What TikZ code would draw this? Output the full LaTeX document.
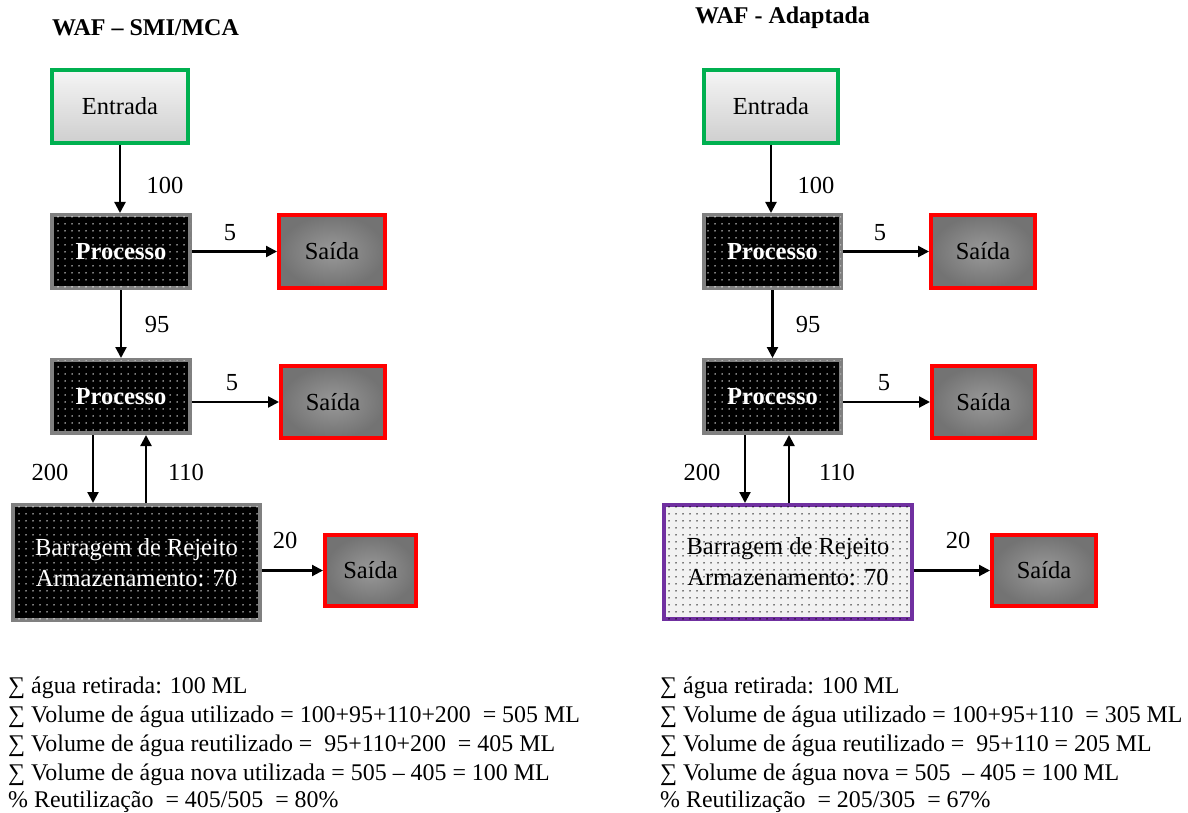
\documentclass[tikz,border=0pt]{standalone}
\usepackage{fontspec}
\setmainfont{Liberation Serif}
\usetikzlibrary{arrows.meta,patterns.meta,calc}
\definecolor{entgreen}{HTML}{00B050}
\definecolor{outred}{HTML}{FF0000}
\definecolor{procgray}{HTML}{808080}
\definecolor{dampurple}{HTML}{7030A0}
\tikzset{
  box/.style={inner sep=0pt, line width=4pt, align=center, font=\fontsize{24.5}{26}\selectfont},
  entbox/.style={box, draw=entgreen, top color=white!96!black, bottom color=white!81!black},
  outbox/.style={box, draw=outred, inner color=white!60!black, outer color=white!45!black},
  procbox/.style={box, draw=procgray, fill=black, text=white, font=\fontsize{24.5}{26}\selectfont\bfseries,
    postaction={pattern={Dots[distance=6.5pt, radius=0.8pt]}, pattern color=white}},
  damdark/.style={box, draw=procgray, fill=black, text=white, font=\fontsize{24.5}{31}\selectfont,
    postaction={pattern={Dots[distance=6.5pt, radius=0.8pt]}, pattern color=white}},
  damlight/.style={box, draw=dampurple, fill=white!95!black, text=black, font=\fontsize{24.5}{31}\selectfont,
    postaction={pattern={Dots[distance=6.5pt, radius=0.8pt]}, pattern color=black}},
  flow/.style={line width=2.2pt, -{Triangle[length=11pt,width=11pt]}},
  lbl/.style={inner sep=0pt, font=\fontsize{24.5}{26}\selectfont},
  ttl/.style={inner sep=0pt, font=\fontsize{24}{26}\selectfont\bfseries},
  sumtxt/.style={inner sep=0pt, anchor=base west, font=\fontsize{23.9}{26}\selectfont}
}
\begin{document}
\begin{tikzpicture}[x=1pt,y=-1pt]
\useasboundingbox (0,0) rectangle (1188,813);
% ---------- left ----------
\node[ttl, anchor=west] (t1) at (52,28) {WAF -- SMI/MCA};
\node[entbox, minimum width=136pt, minimum height=73pt] (e1) at (120,106.5) {Entrada};
\node[procbox, minimum width=138pt, minimum height=73pt] (p1) at (121,251.5) {Processo};
\node[outbox, minimum width=106pt, minimum height=73pt] (s1) at (332,251.5) {Saída};
\node[procbox, minimum width=138pt, minimum height=73pt] (p2) at (121,396.5) {Processo};
\node[outbox, minimum width=104pt, minimum height=72pt] (s2) at (333,402) {Saída};
\node[damdark, minimum width=247pt, minimum height=115pt] (b1) at (136.5,562.5) {Barragem de Rejeito\\Armazenamento: 70};
\node[outbox, minimum width=91pt, minimum height=71pt] (s3) at (370.5,570.5) {Saída};
\draw[flow] (e1.south) -- (e1.south |- p1.north);
\draw[flow] (p1.east) -- (s1.west);
\draw[flow] (p1.south) -- (p2.north);
\draw[flow] (s2.west -| p2.east) -- (s2.west);
\draw[flow] ([xshift=-28pt]p2.south) -- ([xshift=-28pt]p2.south |- b1.north);
\draw[flow] ([xshift=25pt]p2.south |- b1.north) -- ([xshift=25pt]p2.south);
\draw[flow] (s3.west -| b1.east) -- (s3.west);
\node[lbl] (l1) at (165,185) {100};
\node[lbl] (l2) at (230,233) {5};
\node[lbl] (l3) at (157,325) {95};
\node[lbl] (l4) at (232,383) {5};
\node[lbl] (l5) at (50,472) {200};
\node[lbl] (l6) at (186,472) {110};
\node[lbl] (l7) at (285,540) {20};
\node[sumtxt] (a1) at (8,693) {∑ água retirada: 100 ML};
\node[sumtxt] (a2) at (8,722) {∑ Volume de água utilizado = 100+95+110+200 \ = 505 ML};
\node[sumtxt] (a3) at (8,751) {∑ Volume de água reutilizado = \ 95+110+200 \ = 405 ML};
\node[sumtxt] (a4) at (8,780) {∑ Volume de água nova utilizada = 505 -- 405 = 100 ML};
\node[sumtxt] (a5) at (8,807) {\% Reutilização \ = 405/505 \ = 80\%};
% ---------- right ----------
\node[ttl, anchor=west] (t2) at (695,18) {WAF - Adaptada};
\node[entbox, minimum width=134pt, minimum height=73pt] (e2) at (771,106.5) {Entrada};
\node[procbox, minimum width=137pt, minimum height=73pt] (p3) at (772.5,251.5) {Processo};
\node[outbox, minimum width=104pt, minimum height=73pt] (s4) at (983,251.5) {Saída};
\node[procbox, minimum width=137pt, minimum height=73pt] (p4) at (772.5,396.5) {Processo};
\node[outbox, minimum width=103pt, minimum height=72pt] (s5) at (983.5,402) {Saída};
\node[damlight, minimum width=248pt, minimum height=114pt] (b2) at (788,562) {Barragem de Rejeito\\Armazenamento: 70};
\node[outbox, minimum width=104pt, minimum height=71pt] (s6) at (1044,570.5) {Saída};
\draw[flow] (e2.south) -- (e2.south |- p3.north);
\draw[flow] (p3.east) -- (s4.west);
\draw[flow] (p3.south) -- (p4.north);
\draw[flow] (s5.west -| p4.east) -- (s5.west);
\draw[flow] ([xshift=-27.5pt]p4.south) -- ([xshift=-27.5pt]p4.south |- b2.north);
\draw[flow] ([xshift=16.5pt]p4.south |- b2.north) -- ([xshift=16.5pt]p4.south);
\draw[flow] (s6.west -| b2.east) -- (s6.west);
\node[lbl] (r1) at (816,185) {100};
\node[lbl] (r2) at (880,233) {5};
\node[lbl] (r3) at (808,325) {95};
\node[lbl] (r4) at (884,383) {5};
\node[lbl] (r5) at (702,472) {200};
\node[lbl] (r6) at (837,472) {110};
\node[lbl] (r7) at (958,540) {20};
\node[sumtxt] (c1) at (660,693) {∑ água retirada: 100 ML};
\node[sumtxt] (c2) at (660,722) {∑ Volume de água utilizado = 100+95+110 \ = 305 ML};
\node[sumtxt] (c3) at (660,751) {∑ Volume de água reutilizado = \ 95+110 = 205 ML};
\node[sumtxt] (c4) at (660,780) {∑ Volume de água nova = 505 \ -- 405 = 100 ML};
\node[sumtxt] (c5) at (660,807) {\% Reutilização \ = 205/305 \ = 67\%};
\end{tikzpicture}
\end{document}
